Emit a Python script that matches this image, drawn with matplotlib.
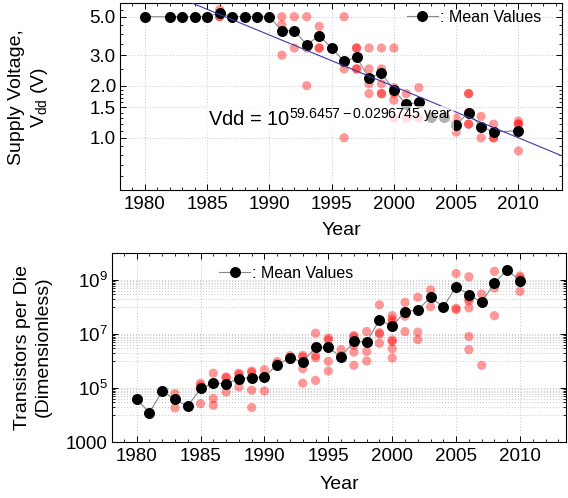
import numpy as np
import matplotlib
matplotlib.use('Agg')
import matplotlib.pyplot as plt
from matplotlib.ticker import FixedLocator, FixedFormatter, NullFormatter

plt.rcParams['font.family'] = ['Liberation Sans', 'DejaVu Sans']
plt.rcParams['mathtext.fontset'] = 'custom'
plt.rcParams['mathtext.rm'] = 'Liberation Sans'
plt.rcParams['mathtext.it'] = 'Liberation Sans:italic'
plt.rcParams['mathtext.bf'] = 'Liberation Sans:bold'

# ---------------- data: supply voltage ----------------
vdd_mean_years = [1980, 1982, 1983, 1984, 1985, 1986, 1987, 1988, 1989, 1990,
                  1991, 1992, 1993, 1994, 1995, 1996, 1997, 1998, 1999, 2000,
                  2001, 2002, 2003, 2004, 2005, 2006, 2007, 2008, 2010]
vdd_mean_values = [5.0, 5.0, 5.0, 5.0, 5.0, 5.25, 5.0, 5.0, 5.0, 5.0,
                   4.15, 4.15, 3.45, 3.89, 3.3, 2.76, 2.92, 2.21, 2.36, 1.88,
                   1.56, 1.60, 1.32, 1.32, 1.19, 1.40, 1.16, 1.08, 1.10]

vdd_years = [1980, 1982, 1983, 1984, 1985,
             1986, 1986, 1986, 1987, 1988, 1989, 1990,
             1991, 1991, 1991, 1992, 1992,
             1993, 1993, 1993, 1994, 1994, 1994, 1995,
             1996, 1996, 1996,
             1997, 1997, 1997, 1997,
             1998, 1998, 1998, 1998,
             1999, 1999, 1999, 1999, 1999,
             2000, 2000, 2000, 2000, 2000,
             2001, 2001, 2001, 2002, 2002, 2002,
             2003, 2004,
             2005, 2005, 2005,
             2006, 2006, 2006, 2006, 2006,
             2007, 2007, 2007,
             2008, 2008, 2008, 2008,
             2010, 2010, 2010, 2010, 2010]
vdd_values = [5.0, 5.0, 5.0, 5.0, 5.0,
              5.5, 5.0, 5.0, 5.0, 5.0, 5.0, 5.0,
              5.0, 4.5, 3.0, 5.0, 3.3,
              5.0, 3.3, 2.0, 4.4, 3.3, 3.3, 3.3,
              5.0, 2.5, 1.0,
              3.3, 3.3, 2.5, 2.5,
              3.3, 2.5, 2.05, 1.8,
              3.3, 2.5, 2.05, 1.8, 1.8,
              3.3, 1.95, 1.8, 1.65, 1.3,
              1.8, 1.55, 1.3, 1.95, 1.6, 1.3,
              1.3, 1.3,
              1.3, 1.2, 1.08,
              1.8, 1.8, 1.4, 1.2, 1.2,
              1.33, 1.15, 1.0,
              1.2, 1.08, 1.0, 1.0,
              1.25, 1.2, 1.2, 1.1, 0.84]

fit_intercept = 59.6457
fit_slope = -0.0296745

vdd_ticks = [1.0, 1.5, 2.0, 3.0, 5.0]
vdd_ticklabels = ['1.0', '1.5', '2.0', '3.0', '5.0']

# ---------------- data: transistors (log10) ----------------
tr_mean_years = list(range(1980, 2011))
tr_mean_log10 = [4.58, 4.09, 4.88, 4.58, 4.32, 4.99, 5.17, 5.16, 5.35, 5.38,
                 5.42, 5.86, 6.12, 5.96, 6.51, 6.51, 6.14, 6.73, 6.70, 7.52,
                 7.28, 7.83, 7.89, 8.36, 8.01, 8.75, 8.46, 8.17, 8.89, 9.38,
                 8.97]

tr_years = [1980, 1981, 1982,
            1983, 1983, 1983, 1984,
            1985, 1985, 1985, 1985,
            1986, 1986, 1986, 1986,
            1987, 1987, 1987, 1987,
            1988, 1988, 1988, 1988,
            1989, 1989, 1989, 1989, 1989,
            1990, 1990, 1990,
            1991, 1991, 1992, 1992,
            1993, 1993, 1993, 1993,
            1994, 1994, 1994, 1994,
            1995, 1995, 1995, 1995,
            1996, 1996,
            1997, 1997, 1997, 1997, 1997,
            1998, 1998, 1998, 1998,
            1999, 1999, 1999, 1999,
            2000, 2000, 2000, 2000, 2000, 2000, 2000,
            2001, 2001, 2001,
            2002, 2002, 2002,
            2003, 2003, 2004,
            2005, 2005, 2005,
            2006, 2006, 2006, 2006, 2006, 2006,
            2007, 2007,
            2008, 2008, 2008,
            2009,
            2010, 2010, 2010]
tr_log10 = [4.58, 4.09, 4.88,
            4.79, 4.58, 4.26, 4.32,
            5.18, 5.10, 4.99, 4.42,
            5.55, 5.17, 4.61, 4.36,
            5.41, 5.38, 5.16, 4.85,
            5.55, 5.50, 5.35, 5.04,
            5.63, 5.58, 5.38, 4.92, 4.28,
            5.68, 5.42, 4.89,
            5.98, 5.90, 6.20, 6.05,
            6.21, 6.15, 5.72, 5.18,
            7.03, 6.20, 6.12, 5.28,
            6.85, 6.78, 5.99, 5.63,
            6.42, 6.20,
            6.94, 6.90, 6.58, 6.33, 5.84,
            7.09, 6.70, 6.35, 6.00,
            8.08, 7.05, 7.00, 6.66,
            7.68, 7.55, 7.45, 6.78, 6.72, 6.45, 6.11,
            8.17, 7.66, 7.09,
            8.36, 7.07, 6.79,
            8.63, 8.01, 7.98,
            9.24, 7.95, 7.90,
            9.12, 8.30, 8.22, 7.97, 6.91, 6.42,
            8.48, 5.84,
            9.32, 8.70, 7.68,
            9.38,
            9.15, 9.08, 8.58]

tr_ticks = [1e3, 1e5, 1e7, 1e9]
tr_ticklabels = ['1000', r'$\mathregular{10^5}$', r'$\mathregular{10^7}$', r'$\mathregular{10^9}$']

year_ticks = [1980, 1985, 1990, 1995, 2000, 2005, 2010]

# ---------------- style ----------------
PINK = (1.0, 0.0, 0.0, 0.4)
GRID = dict(color='#c8c8c8', linestyle=(0, (1, 2)), linewidth=0.7)
FS_TICK = 13.5
FS_LAB = 14

fig = plt.figure(figsize=(5.68, 4.98), dpi=100)
ax1 = fig.add_axes([120/568, 1-190/498, 442/568, 187/498])
ax2 = fig.add_axes([112/568, 1-442/498, 454/568, 189/498])


def style_axis(ax):
    ax.tick_params(which='both', direction='in', top=True, right=True,
                   labelsize=FS_TICK, colors='black')
    ax.tick_params(which='major', length=4.5, width=0.7)
    ax.tick_params(which='minor', length=2.3, width=0.6)
    ax.tick_params(axis='x', pad=4)
    ax.tick_params(axis='y', pad=3)
    for s in ax.spines.values():
        s.set_linewidth(0.8)
    ax.set_axisbelow(True)
    ax.xaxis.set_major_locator(FixedLocator(year_ticks))
    ax.xaxis.set_minor_locator(FixedLocator(np.arange(1978, 2014)))


# ---------- top plot ----------
ax1.set_yscale('log')
ax1.set_xlim(1978, 2013.5)
ax1.set_ylim(0.5, 6.0)
style_axis(ax1)
ax1.yaxis.set_major_locator(FixedLocator(vdd_ticks))
ax1.yaxis.set_major_formatter(FixedFormatter(vdd_ticklabels))
ax1.yaxis.set_minor_locator(FixedLocator([0.5, 0.6, 0.7, 0.8, 0.9, 1.1, 1.2, 1.3, 1.4,
                                          1.6, 1.7, 1.8, 1.9, 2.5, 3.5, 4.0, 4.5, 5.5, 6.0]))
ax1.yaxis.set_minor_formatter(NullFormatter())
ax1.grid(True, which='major', **GRID)

ax1.scatter(vdd_years, vdd_values, s=44, color=PINK, edgecolors='none', zorder=3)
ax1.plot(vdd_mean_years, vdd_mean_values, color='#888888', lw=0.8, marker='o',
         ms=6.9, mfc='black', mec='black', zorder=4, label=': Mean Values')
xfit = np.array(ax1.get_xlim())
ax1.plot(xfit, 10 ** (fit_intercept + fit_slope * xfit), color='#3a3aa8', lw=0.8, zorder=4)
ax1.text(1985.05, 1.17, r'Vdd = 10$^{\mathregular{59.6457-0.0296745\ year}}$',
         fontsize=14.5, ha='left', va='baseline', zorder=6,
         bbox=dict(facecolor='white', alpha=0.7, edgecolor='none', pad=1.5))
ax1.legend(loc='center left', bbox_to_anchor=(0.649, 0.925), frameon=False,
           borderpad=0, borderaxespad=0, handlelength=1.95, handletextpad=0.1,
           fontsize=11.5)
ax1.set_xlabel('Year', fontsize=FS_LAB, labelpad=7)
fig.text(29/568, 1-97/498, 'Supply Voltage,\n' + r'$\mathregular{V_{dd}}$ (V)',
         rotation=90, ha='center', va='center', fontsize=FS_LAB, linespacing=1.3)

# ---------- bottom plot ----------
ax2.set_yscale('log')
ax2.set_xlim(1978.07, 2013.6)
ax2.set_ylim(1e3, 1e10)
style_axis(ax2)
ax2.yaxis.set_major_locator(FixedLocator(tr_ticks))
ax2.yaxis.set_major_formatter(FixedFormatter(tr_ticklabels))
minors = [m * 10.0 ** k for k in (4, 6, 8) for m in range(1, 10)]
ax2.yaxis.set_minor_locator(FixedLocator(minors))
ax2.yaxis.set_minor_formatter(NullFormatter())
ax2.grid(True, which='major', **GRID)
ax2.grid(True, which='minor', axis='y', **GRID)

ax2.scatter(tr_years, 10.0 ** np.array(tr_log10), s=44, color=PINK, edgecolors='none', zorder=3)
ax2.plot(tr_mean_years, 10.0 ** np.array(tr_mean_log10), color='#888888', lw=0.8, marker='o',
         ms=6.9, mfc='black', mec='black', zorder=4, label=': Mean Values')
ax2.legend(loc='center left', bbox_to_anchor=(0.236, 0.894), frameon=False,
           borderpad=0, borderaxespad=0, handlelength=1.95, handletextpad=0.1,
           fontsize=11.5)
ax2.set_xlabel('Year', fontsize=FS_LAB, labelpad=8)
fig.text(33/568, 1-347/498, 'Transistors per Die\n(Dimensionless)',
         rotation=90, ha='center', va='center', fontsize=FS_LAB, linespacing=1.3)

fig.savefig('out.png', dpi=100)
